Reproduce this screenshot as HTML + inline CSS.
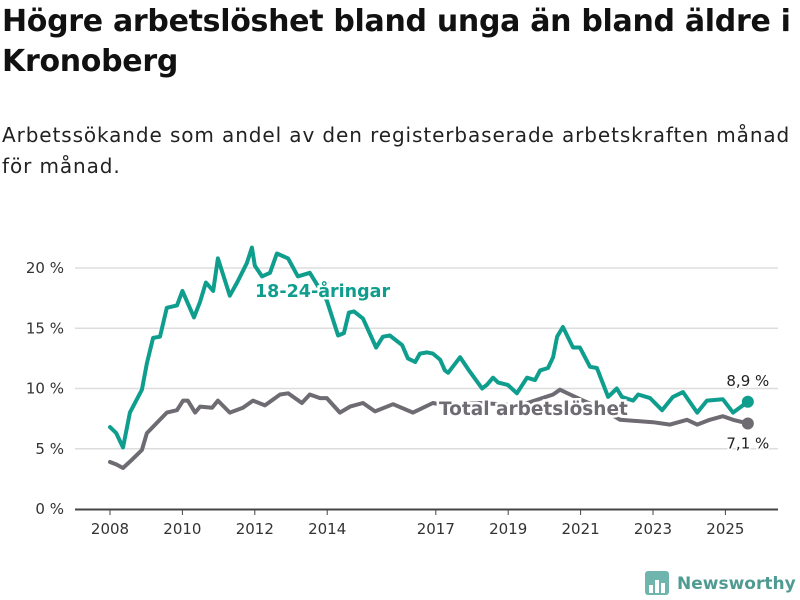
<!DOCTYPE html>
<html><head><meta charset="utf-8"><style>
body{margin:0;background:#fff;font-family:"Liberation Sans","DejaVu Sans",sans-serif;}
#wrap{position:relative;width:800px;height:600px;overflow:hidden;}
h1{position:absolute;left:2px;top:2px;margin:0;font:bold 30px/40px "DejaVu Sans",sans-serif;color:#111;width:800px;letter-spacing:-0.3px}
.sub{position:absolute;left:2px;top:120px;font:20px/31px "DejaVu Sans",sans-serif;color:#222;width:800px;white-space:nowrap;letter-spacing:0.9px}
svg{position:absolute;left:0;top:0}
</style></head><body><div id="wrap">
<h1>Högre arbetslöshet bland unga än bland äldre i Kronoberg</h1>
<div class="sub">Arbetssökande som andel av den registerbaserade arbetskraften månad<br>för månad.</div>
<svg id="c" width="800" height="600"></svg>
</div>
<script>
const yTicks=[0,5,10,15,20];
const xTickYears=[2008,2010,2012,2014,2017,2019,2021,2023,2025];
const youthYears=[2008.0,2008.17,2008.36,2008.55,2008.88,2009.02,2009.19,2009.38,2009.57,2009.85,2010.0,2010.32,2010.49,2010.65,2010.85,2010.98,2011.31,2011.51,2011.78,2011.92,2012.0,2012.2,2012.42,2012.61,2012.92,2013.19,2013.52,2013.99,2014.3,2014.46,2014.6,2014.74,2014.99,2015.35,2015.54,2015.73,2016.07,2016.23,2016.43,2016.56,2016.76,2016.92,2017.12,2017.25,2017.34,2017.67,2017.94,2018.28,2018.41,2018.58,2018.72,2018.99,2019.24,2019.52,2019.74,2019.88,2020.1,2020.24,2020.35,2020.51,2020.79,2020.98,2021.26,2021.45,2021.76,2022.0,2022.14,2022.45,2022.59,2022.92,2023.25,2023.55,2023.83,2024.22,2024.49,2024.93,2025.21,2025.62];
const youthValues=[6.8,6.3,5.1,8.0,9.9,12.1,14.2,14.3,16.7,16.9,18.1,15.9,17.2,18.8,18.1,20.8,17.7,18.8,20.4,21.7,20.2,19.3,19.6,21.2,20.8,19.3,19.6,17.3,14.4,14.6,16.3,16.4,15.8,13.4,14.3,14.4,13.6,12.5,12.2,12.9,13.0,12.9,12.4,11.5,11.3,12.6,11.4,10.0,10.3,10.9,10.5,10.3,9.6,10.9,10.7,11.5,11.7,12.6,14.3,15.1,13.4,13.4,11.8,11.7,9.3,10.0,9.3,9.0,9.5,9.2,8.2,9.3,9.7,8.0,9.0,9.1,8.0,8.9];
const totalYears=[2008.0,2008.17,2008.36,2008.61,2008.88,2009.02,2009.57,2009.85,2010.02,2010.15,2010.35,2010.49,2010.82,2010.98,2011.31,2011.67,2011.95,2012.28,2012.7,2012.92,2013.3,2013.52,2013.8,2013.99,2014.35,2014.63,2014.99,2015.32,2015.82,2016.37,2016.92,2017.25,2018.22,2019.33,2020.24,2020.43,2020.71,2021.07,2021.54,2022.09,2023.0,2023.47,2023.94,2024.22,2024.57,2024.93,2025.21,2025.62];
const totalValues=[3.9,3.7,3.4,4.1,4.9,6.3,8.0,8.2,9.0,9.0,8.0,8.5,8.4,9.0,8.0,8.4,9.0,8.6,9.5,9.6,8.8,9.5,9.2,9.2,8.0,8.5,8.8,8.1,8.7,8.0,8.8,8.6,8.8,8.6,9.5,9.9,9.5,9.0,8.4,7.4,7.2,7.0,7.4,7.0,7.4,7.7,7.4,7.1];
const youthLabel="18-24-åringar", totalLabel="Total arbetslöshet";

const svg=document.getElementById('c'),NS='http://www.w3.org/2000/svg';
const x=v=>110+(v-2008)*36.2, y=v=>509-v*12.05;
function el(t,a,txt){const e=document.createElementNS(NS,t);for(const k in a)e.setAttribute(k,a[k]);if(txt!=null)e.textContent=txt;svg.appendChild(e);return e;}
yTicks.forEach(t=>{
 if(t>0){const g=el('line',{x1:75,x2:778,y1:y(t),y2:y(t),stroke:'#ddd','stroke-width':1.5});
 
 }
 const l=el('text',{x:64,y:y(t)+5,'text-anchor':'end','font-size':15,fill:'#333','font-family':'DejaVu Sans,sans-serif'},t+' %');
 
 
});
const ax=el('line',{x1:75,x2:778,y1:509.5,y2:509.5,stroke:'#444','stroke-width':2});


xTickYears.forEach(t=>{
 const tk=el('line',{x1:x(t),x2:x(t),y1:510,y2:515,stroke:'#444','stroke-width':1});
 
 
 const l=el('text',{x:x(t),y:534,'text-anchor':'middle','font-size':15,fill:'#333','font-family':'DejaVu Sans,sans-serif'},t);
 
 
});
function line(xs,vs,col,name){
 const d=xs.map((v,i)=>(i?'L':'M')+x(v).toFixed(1)+','+y(vs[i]).toFixed(1)).join('');
 const p=el('path',{d:d,fill:'none',stroke:col,'stroke-width':4,'stroke-linejoin':'round','stroke-linecap':'round'});
 
 
 const n=xs.length-1;
 const c=el('circle',{cx:x(xs[n]),cy:y(vs[n]),r:6,fill:col});
 
 
 const v=el('text',{x:x(xs[n]),y:name=='youth'?y(vs[n])-16:y(vs[n])+25,'text-anchor':'middle','font-size':15,fill:'#222','font-family':'DejaVu Sans,sans-serif',stroke:'#fff','stroke-width':3,'paint-order':'stroke'},vs[n].toFixed(1).replace('.',',')+' %');
 
 
}
line(totalYears,totalValues,'#6e6b72','total');
line(youthYears,youthValues,'#0f9e8e','youth');
const yl=el('text',{x:255,y:297,'font-size':17.5,'font-weight':'bold',fill:'#0f9e8e','font-family':'DejaVu Sans,sans-serif',stroke:'#fff','stroke-width':5,'paint-order':'stroke'},youthLabel);


const tl=el('text',{x:439,y:415,'font-size':18.5,'font-weight':'bold',fill:'#6e6b72','font-family':'DejaVu Sans,sans-serif',stroke:'#fff','stroke-width':5,'paint-order':'stroke'},totalLabel);


const lg=el('rect',{x:645,y:571,width:24,height:24,rx:3,fill:'#6fb5ad'});


[[649,585,4,8],[655,580,4,13],[661,583,4,10]].forEach(b=>{const r=el('rect',{x:b[0],y:b[1],width:b[2],height:b[3],fill:'#fff'});
 
 });
const lt=el('text',{x:677,y:589,'font-size':17,'font-weight':'bold',fill:'#4f9b92','font-family':'DejaVu Sans,sans-serif'},'Newsworthy');


</script></body></html>
